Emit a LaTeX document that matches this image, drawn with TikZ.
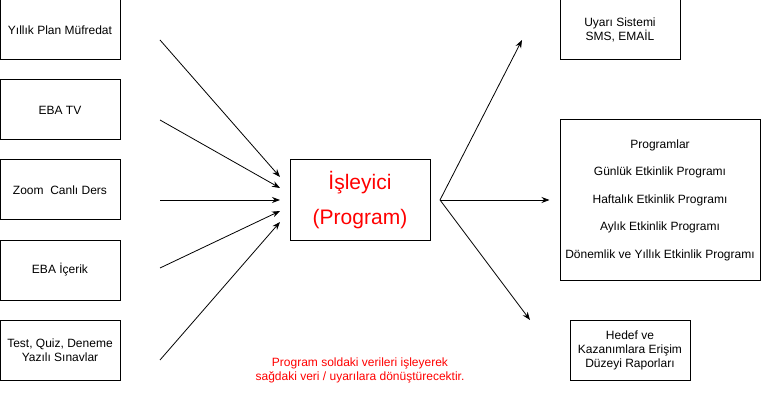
\documentclass[tikz,border=0pt]{standalone}
\usepackage{fontspec}
\setmainfont{Liberation Sans}
\usetikzlibrary{arrows.meta}
\usetikzlibrary{positioning}

\begin{document}
\begin{tikzpicture}[x=1pt, y=-1pt,
    kutu/.style={draw, line width=1pt, minimum width=120pt, minimum height=60pt, align=center, font=\fontsize{12}{14}\selectfont},
    ok/.style={-{Stealth[length=8pt,width=6pt]}, line width=0.8pt}]
    \useasboundingbox (0,0) rectangle (761,401);
    % girdiler
    \node[kutu] (plan) at (60,30) {Yıllık Plan Müfredat};
    \node[kutu] (tv) at (60,110) {EBA TV};
    \node[kutu] (zoom) at (60,190) {Zoom\ \ Canlı Ders};
    \node[kutu] (icerik) at (60,270) {EBA İçerik};
    \node[kutu] (sinav) at (60,350) {Test, Quiz, Deneme\\Yazılı Sınavlar};
    % isleyici
    \node[kutu, minimum width=140pt, minimum height=80pt, text=red, font=\fontsize{21}{35}\selectfont] (isleyici) at (360,200) {İşleyici\\(Program)};
    % ciktilar
    \node[kutu] (uyari) at (620,30) {Uyarı Sistemi\\SMS, EMAİL};
    \node[kutu, minimum width=200pt, minimum height=160pt, font=\fontsize{12}{27.5}\selectfont] (programlar) at (660,200) {Programlar\\Günlük Etkinlik Programı\\Haftalık Etkinlik Programı\\Aylık Etkinlik Programı\\Dönemlik ve Yıllık Etkinlik Programı};
    \node[kutu] (rapor) at (630,350) {Hedef ve\\Kazanımlara Erişim\\Düzeyi Raporları};
    \node[text=red, align=center, font=\fontsize{12}{14}\selectfont] (not) at (360,370) {Program soldaki verileri işleyerek\\sağdaki veri / uyarılara dönüştürecektir.};
    % oklar
    \foreach \i/\ys/\ye in {1/40/177, 2/120/188, 3/200/200, 4/268/211, 5/360/222} {
        \coordinate (g\i) at (160,\ys);
        \coordinate (h\i) at (280,\ye);
        \draw[ok] (g\i) -- (h\i);
    }
    \coordinate (dal) at (440,200);
    \coordinate (u1) at (522,40);
    \coordinate (u3) at (530,320);
    \draw[ok] (dal) -- (u1);
    \draw[ok, shorten >=10pt] (dal) -- (programlar);
    \draw[ok] (dal) -- (u3);
\end{tikzpicture}
\end{document}
